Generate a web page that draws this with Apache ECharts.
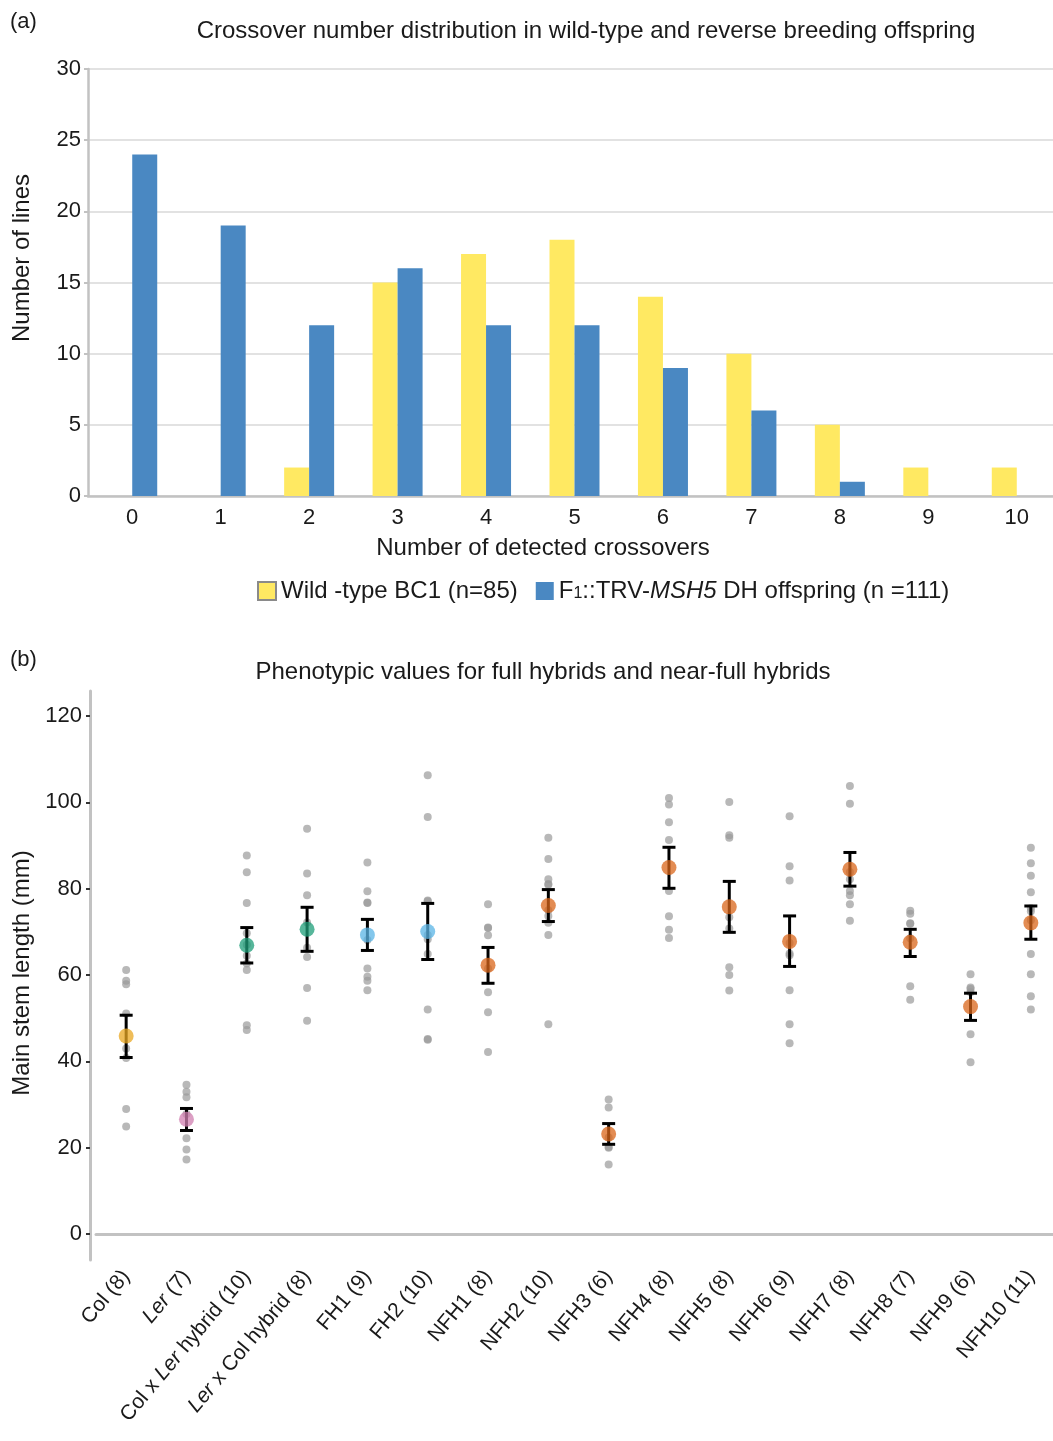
<!DOCTYPE html>
<html><head><meta charset="utf-8">
<script src="https://cdn.jsdelivr.net/npm/echarts@6/dist/echarts.min.js"></script>
<style>html,body{margin:0;padding:0;background:#fff;overflow:hidden}#c{width:1070px;height:1441px}</style>
</head><body><div id="c"></div>
<script>
// ---------- Panel (a) data ----------
const crossoverCats = ['0','1','2','3','4','5','6','7','8','9','10'];
const wildTypeCounts = [0,0,2,15,17,18,14,10,5,2,2];
const dhCounts = [24,19,12,16,12,12,9,6,1,0,0];
const wildTypeName = 'Wild -type BC1 (n=85)';
const dhName = 'F1::TRV-MSH5 DH offspring (n =111)';

// ---------- Panel (b) data ----------
const groupNames = ['Col (8)','Ler (7)','Col x Ler hybrid (10)','Ler x Col hybrid (8)','FH1 (9)','FH2 (10)',
  'NFH1 (8)','NFH2 (10)','NFH3 (6)','NFH4 (8)','NFH5 (8)','NFH6 (9)','NFH7 (8)','NFH8 (7)','NFH9 (6)','NFH10 (11)'];
const groupMeans = [45.9,26.6,66.9,70.6,69.3,70.1,62.3,76.1,23.2,84.9,75.8,67.8,84.5,67.6,52.7,72.1];
const errLow  = [40.9,24.0,62.8,65.5,65.7,63.6,58.1,72.4,20.8,80.1,69.9,62.0,80.6,64.3,49.5,68.3];
const errHigh = [50.7,29.1,71.0,75.7,72.9,76.6,66.4,79.8,25.6,89.6,81.7,73.7,88.4,70.6,55.8,76.0];
const ptsCol    = [61.2,58.7,57.9,51.1,43.0,40.8,29.0,24.9];
const ptsLer    = [34.6,33.0,31.7,27.8,22.2,19.6,17.3];
const ptsColLer = [87.7,83.8,76.7,69.7,67.0,64.5,62.7,61.2,48.4,47.3];
const ptsLerCol = [93.9,83.5,78.5,72.2,66.3,64.2,57.0,49.4];
const ptsFH1    = [86.1,79.4,76.8,76.7,68.1,61.5,59.6,58.7,56.5];
const ptsFH2    = [106.3,96.6,77.3,77.1,69.3,68.3,64.9,52.0,45.2,45.0];
const ptsNFH1   = [76.4,71.0,70.9,69.2,61.5,56.0,51.4,42.2];
const ptsNFH2   = [91.8,86.9,82.2,81.1,80.9,75.0,73.7,72.1,69.3,48.6];
const ptsNFH3   = [31.2,29.3,22.4,20.2,20.0,16.1];
const ptsNFH4   = [101.0,99.5,95.4,91.3,79.5,73.6,70.5,68.6];
const ptsNFH5   = [100.1,92.4,91.8,73.4,70.8,61.8,60.0,56.4];
const ptsNFH6   = [96.8,85.2,81.9,67.4,65.0,64.6,56.5,48.6,44.2];
const ptsNFH7   = [103.8,99.7,83.9,82.2,79.5,78.5,76.4,72.6];
const ptsNFH8   = [74.9,74.2,72.0,71.9,68.5,57.4,54.3];
const ptsNFH9   = [60.2,57.1,56.8,56.0,46.3,39.8];
const ptsNFH10  = [89.5,85.9,83.0,79.2,75.5,74.8,72.7,64.9,60.2,55.1,52.0];
const yTicksB = [0,20,40,60,80,100,120];

// ---------- styles ----------
const meanColors = ['#E9A722','#D07FB0','#1E9E78','#1E9E78','#5AB4E6','#5AB4E6',
  '#D9661A','#D9661A','#D9661A','#D9661A','#D9661A','#D9661A','#D9661A','#D9661A','#D9661A','#D9661A'];
const FONT = '"Liberation Sans", Arial, Helvetica, sans-serif';
const TXT = '#1a1a1a';
const AXIS_GRAY = '#c2c2c2';

const allPts = [ptsCol,ptsLer,ptsColLer,ptsLerCol,ptsFH1,ptsFH2,ptsNFH1,ptsNFH2,ptsNFH3,ptsNFH4,ptsNFH5,ptsNFH6,ptsNFH7,ptsNFH8,ptsNFH9,ptsNFH10];
const scatterData = [];
allPts.forEach((arr, i) => arr.forEach(v => scatterData.push([i, v])));
const meanData = groupMeans.map((m, i) => ({value: [i, m], itemStyle: {color: meanColors[i]}}));
const errData = groupMeans.map((m, i) => [i, errLow[i], errHigh[i]]);

const chart = echarts.init(document.getElementById('c'), null, {renderer: 'canvas'});
const option = {
  backgroundColor: '#fff',
  animation: false,
  textStyle: {fontFamily: FONT, color: TXT},
  grid: [
    {left: 88, top: 69, width: 973, height: 427},
    {left: 96, top: 691, width: 965, height: 569}
  ],
  legend: {
    left: 252, top: 574, itemWidth: 18, itemHeight: 18, itemGap: 18, icon: 'rect',
    data: [
      {name: wildTypeName, itemStyle: {borderColor: '#8a8a8a', borderWidth: 2}},
      {name: dhName}
    ],
    textStyle: {fontSize: 24, color: TXT, fontFamily: FONT,
      rich: {
        a: {fontSize: 24, color: TXT, fontFamily: FONT},
        s: {fontSize: 16, color: TXT, fontFamily: FONT, padding: [6, 0, 0, 0]},
        i: {fontSize: 24, color: TXT, fontFamily: FONT, fontStyle: 'italic'}
      }},
    formatter: function (name) {
      if (name === dhName) return '{a|F}{s|1}{a|::TRV-}{i|MSH5}{a| DH offspring (n =111)}';
      return '{a|' + name + '}';
    }
  },
  xAxis: [
    {type: 'category', gridIndex: 0, data: crossoverCats,
      axisLine: {lineStyle: {color: AXIS_GRAY, width: 2.5}},
      axisTick: {show: false},
      axisLabel: {fontSize: 22, color: TXT, margin: 11, fontFamily: FONT}},
    {type: 'category', gridIndex: 1, data: groupNames, boundaryGap: true,
      axisLine: {lineStyle: {color: AXIS_GRAY, width: 3}},
      axisTick: {alignWithLabel: true, length: 5, lineStyle: {color: '#333', width: 2}},
      axisLabel: {rotate: 50, fontSize: 21, color: TXT, margin: 13, interval: 0, fontFamily: FONT,
        formatter: v => v.replace(/Ler/g, '{i|Ler}'),
        rich: {i: {fontStyle: 'italic', fontSize: 21, color: TXT, fontFamily: FONT}}}}
  ],
  yAxis: [
    {type: 'value', gridIndex: 0, min: 0, max: 30, interval: 5,
      axisLine: {show: true, lineStyle: {color: AXIS_GRAY, width: 2.5}},
      axisTick: {show: true, length: 4, lineStyle: {color: AXIS_GRAY, width: 2}},
      splitLine: {lineStyle: {color: '#d9d9d9', width: 1.5}},
      axisLabel: {fontSize: 22, color: TXT, margin: 7, fontFamily: FONT}},
    {type: 'value', gridIndex: 1, min: -6, max: 125.8, offset: 6,
      axisLine: {show: true, lineStyle: {color: AXIS_GRAY, width: 3}},
      axisTick: {show: true, length: 4, customValues: yTicksB, lineStyle: {color: '#333', width: 2}},
      splitLine: {show: false},
      axisLabel: {fontSize: 22, color: TXT, margin: 8, customValues: yTicksB, fontFamily: FONT}}
  ],
  series: [
    {name: wildTypeName, type: 'bar', xAxisIndex: 0, yAxisIndex: 0, data: wildTypeCounts,
      barWidth: 25, barGap: '0%', itemStyle: {color: '#FFE962'}},
    {name: dhName, type: 'bar', xAxisIndex: 0, yAxisIndex: 0, data: dhCounts,
      barWidth: 25, barGap: '0%', itemStyle: {color: '#4A88C2'}},
    {name: 'points', type: 'scatter', xAxisIndex: 1, yAxisIndex: 1, data: scatterData,
      symbolSize: 8, itemStyle: {color: '#9a9a9a', opacity: 0.7}, z: 2},
    {name: 'err', type: 'custom', xAxisIndex: 1, yAxisIndex: 1, data: errData, z: 3,
      renderItem: function (params, api) {
        const x = api.value(0);
        const lo = api.coord([x, api.value(1)]);
        const hi = api.coord([x, api.value(2)]);
        const hw = 6.5;
        const st = {stroke: '#000', lineWidth: 3};
        return {type: 'group', children: [
          {type: 'line', shape: {x1: lo[0], y1: lo[1], x2: hi[0], y2: hi[1]}, style: st},
          {type: 'line', shape: {x1: hi[0] - hw, y1: hi[1], x2: hi[0] + hw, y2: hi[1]}, style: st},
          {type: 'line', shape: {x1: lo[0] - hw, y1: lo[1], x2: lo[0] + hw, y2: lo[1]}, style: st}
        ]};
      }},
    {name: 'mean', type: 'scatter', xAxisIndex: 1, yAxisIndex: 1, data: meanData,
      symbolSize: 15, itemStyle: {opacity: 0.75}, z: 4}
  ],
  graphic: [
    {type: 'text', x: 10, y: 22, style: {text: '(a)', font: '22px ' + FONT, fill: TXT, textAlign: 'left', textVerticalAlign: 'middle', verticalAlign: 'middle'}},
    {type: 'text', x: 586, y: 31, style: {text: 'Crossover number distribution in wild-type and reverse breeding offspring', font: '24px ' + FONT, fill: TXT, textAlign: 'center', textVerticalAlign: 'middle', verticalAlign: 'middle'}},
    {type: 'text', x: 543, y: 548, style: {text: 'Number of detected crossovers', font: '24px ' + FONT, fill: TXT, textAlign: 'center', textVerticalAlign: 'middle', verticalAlign: 'middle'}},
    {type: 'text', x: 22, y: 258, rotation: Math.PI / 2, style: {text: 'Number of lines', font: '24px ' + FONT, fill: TXT, textAlign: 'center', textVerticalAlign: 'middle', verticalAlign: 'middle'}},
    {type: 'text', x: 10, y: 660, style: {text: '(b)', font: '22px ' + FONT, fill: TXT, textAlign: 'left', textVerticalAlign: 'middle', verticalAlign: 'middle'}},
    {type: 'text', x: 543, y: 672, style: {text: 'Phenotypic values for full hybrids and near-full hybrids', font: '24px ' + FONT, fill: TXT, textAlign: 'center', textVerticalAlign: 'middle', verticalAlign: 'middle'}},
    {type: 'text', x: 22, y: 973, rotation: Math.PI / 2, style: {text: 'Main stem length (mm)', font: '24px ' + FONT, fill: TXT, textAlign: 'center', textVerticalAlign: 'middle', verticalAlign: 'middle'}}
  ]
};
chart.setOption(option);
</script></body></html>
